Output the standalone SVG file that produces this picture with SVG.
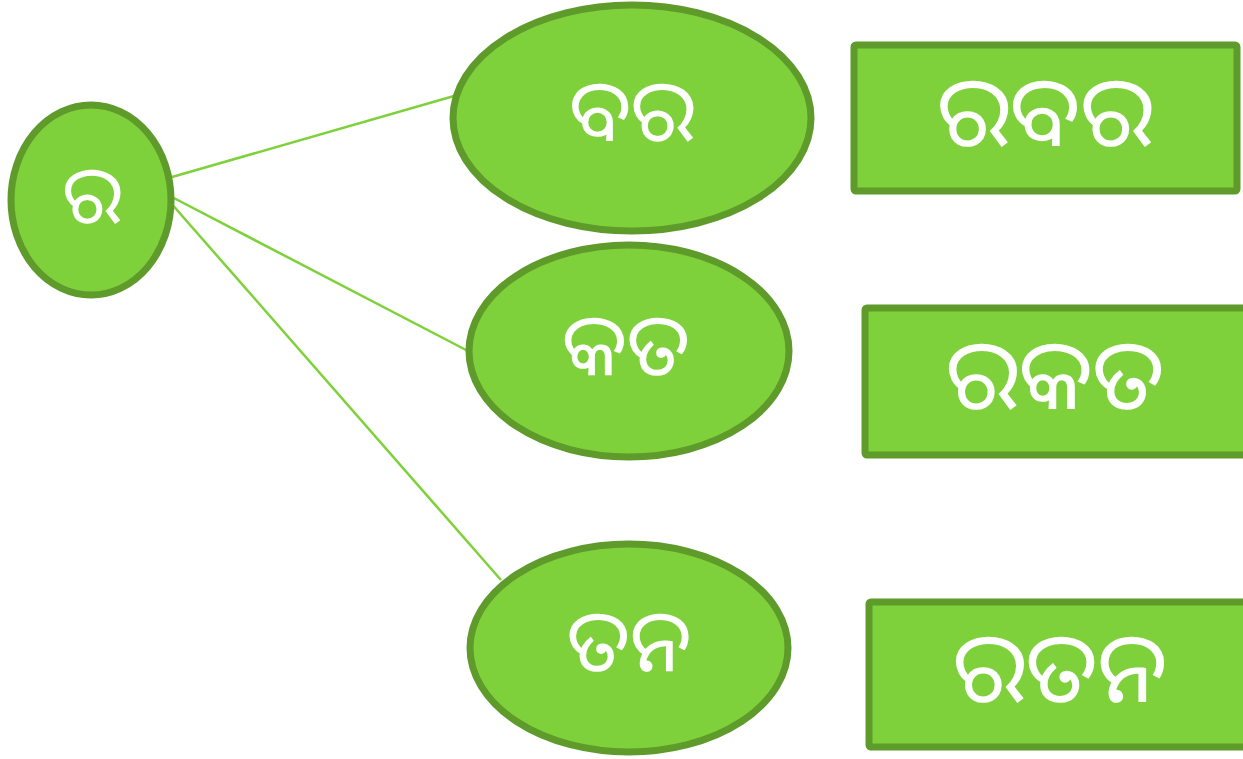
<svg xmlns="http://www.w3.org/2000/svg" width="1243" height="759" viewBox="0 0 1243 759">
<style>
.n{fill:#7ed13b;stroke:#5e9b2b;stroke-width:7}
.t{fill:#ffffff;font-family:"Noto Sans Oriya","Noto Sans","DejaVu Sans",sans-serif;text-anchor:middle;dominant-baseline:central}
.c{stroke:#7ed13b;stroke-width:2.5;fill:none}
</style>
<rect width="1243" height="759" fill="#ffffff"/>
<g id="connectors">
<line class="c" x1="165" y1="179" x2="454" y2="96"/>
<line class="c" x1="168" y1="195" x2="468" y2="351"/>
<line class="c" x1="170" y1="202" x2="501" y2="580"/>
</g>
<g id="n-ra">
<ellipse class="n" cx="91" cy="200" rx="80" ry="95"/>
<text class="t" x="92" y="191" font-size="80">ର</text>
</g>
<g id="n-bara">
<ellipse class="n" cx="632" cy="118" rx="179" ry="113"/>
<text class="t" x="632" y="107" font-size="86">ବର</text>
</g>
<g id="n-kata">
<ellipse class="n" cx="629" cy="351" rx="160" ry="106"/>
<text class="t" x="626" y="341" font-size="86">କତ</text>
</g>
<g id="n-tana">
<ellipse class="n" cx="629" cy="648" rx="159" ry="104"/>
<text class="t" x="629" y="637" font-size="86">ତନ</text>
</g>
<g id="w-rabara">
<rect class="n" x="854" y="45" width="383" height="146" rx="2"/>
<text class="t" x="1045" y="108" font-size="98">ରବର</text>
</g>
<g id="w-rakata">
<rect class="n" x="865" y="308" width="400" height="147" rx="2"/>
<text class="t" x="1055" y="371" font-size="98">ରକତ</text>
</g>
<g id="w-ratana">
<rect class="n" x="869" y="602" width="400" height="145" rx="2"/>
<text class="t" x="1060" y="664" font-size="98">ରତନ</text>
</g>
</svg>
